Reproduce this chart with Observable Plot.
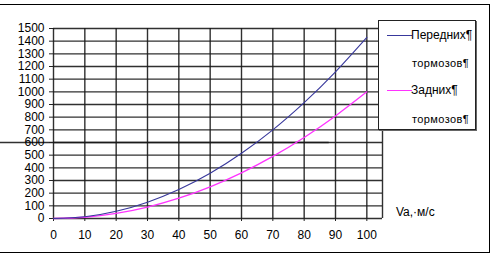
<!DOCTYPE html>
<html><head><meta charset="utf-8">
<script src="https://cdn.jsdelivr.net/npm/d3@7"></script>
<script src="https://cdn.jsdelivr.net/npm/@observablehq/plot@0.6"></script>
<style>
body{margin:0;background:#fff;}
#wrap{position:relative;width:493px;height:256px;overflow:hidden;font-family:"Liberation Sans",Arial,sans-serif;font-size:12px;color:#000;}
#wrap svg{position:absolute;left:0;top:0;}
#frame{position:absolute;left:-1px;top:4px;width:491px;height:249px;border:1px solid #000;box-sizing:border-box;pointer-events:none;}
#legend{position:absolute;left:378px;top:20px;width:98px;height:110px;box-sizing:border-box;border:1px solid #222;background:#fff;box-shadow:1px 1px 0 #666;}
#legend .sw{position:absolute;left:8px;width:25px;height:0;border-top:1px solid;}
#legend .t{position:absolute;line-height:14px;white-space:nowrap;}
#xlabel{position:absolute;left:396px;top:205px;line-height:14px;white-space:nowrap;}
</style>
</head><body>
<div id="wrap"><div id="frame"></div></div>
<script>
const speeds = [0, 10, 20, 30, 40, 50, 60, 70, 80, 90, 100];
const frontBrakes = [0, 14, 57, 129, 229, 357, 515, 700, 915, 1158, 1430];
const rearBrakes = [0, 10, 40, 90, 160, 250, 360, 490, 640, 810, 1000];
const xTicks = [0, 10, 20, 30, 40, 50, 60, 70, 80, 90, 100];
const yTicks = [0, 100, 200, 300, 400, 500, 600, 700, 800, 900, 1000, 1100, 1200, 1300, 1400, 1500];
const xEdge = 105;
const seriesNames = ["Передних¶", "Задних¶"];
const seriesSub = "тормозов¶";
const seriesColors = ["#38389c", "#ff33ff"];
const axisLabel = "Va,·м/с";
const strayLine = [{y: 600, x1: -17, x2: 88}];

const front = speeds.map((v, i) => ({v, f: frontBrakes[i]}));
const rear = speeds.map((v, i) => ({v, f: rearBrakes[i]}));
const gridStyle = {stroke: "#1a1a1a", strokeWidth: 1.4, strokeOpacity: 0.9};

const chart = Plot.plot({
  width: 493, height: 256,
  marginLeft: 53, marginRight: 111, marginTop: 28, marginBottom: 38,
  x: {domain: [0, xEdge]},
  y: {domain: [0, 1500]},
  style: {fontFamily: '"Liberation Sans", Arial, sans-serif', fontSize: "12px", color: "#000", background: "transparent"},
  marks: [
    Plot.ruleY(yTicks, {x1: 0, x2: xEdge, ...gridStyle}),
    Plot.ruleX([...xTicks, xEdge], {y1: 0, y2: 1500, ...gridStyle}),
    Plot.ruleY(strayLine, {y: "y", x1: "x1", x2: "x2", ...gridStyle}),
    Plot.axisY(yTicks, {tickSize: 4, tickPadding: 5, fontSize: 12, label: null, stroke: "#222", tickFormat: d3.format("d")}),
    Plot.axisX(xTicks, {tickSize: 3, tickPadding: 9, fontSize: 12, label: null, stroke: "#222", tickFormat: d3.format("d")}),
    Plot.line(rear, {x: "v", y: "f", stroke: seriesColors[1], strokeWidth: 1.3, curve: "natural"}),
    Plot.line(front, {x: "v", y: "f", stroke: seriesColors[0], strokeWidth: 1.1, curve: "natural"})
  ]
});
const wrap = document.getElementById("wrap");
wrap.insertBefore(chart, wrap.firstChild);

const lg = document.createElement("div");
lg.id = "legend";
const rows = [
  {sw: seriesColors[0], text: seriesNames[0], c: 15},
  {text: seriesSub, c: 43, sub: true},
  {sw: seriesColors[1], text: seriesNames[1], c: 70},
  {text: seriesSub, c: 99, sub: true}
];
for (const r of rows) {
  if (r.sw) {
    const s = document.createElement("div");
    s.className = "sw"; s.style.borderTopColor = r.sw; s.style.top = (r.c - 1) + "px";
    lg.appendChild(s);
  }
  const t = document.createElement("div");
  t.className = "t"; t.textContent = r.text;
  t.style.top = (r.c - 8) + "px";
  t.style.left = r.sub ? "33px" : "32px";
  if (r.sub) { t.style.letterSpacing = "0.4px"; t.style.fontSize = "11px"; }
  lg.appendChild(t);
}
wrap.appendChild(lg);
const xl = document.createElement("div");
xl.id = "xlabel"; xl.textContent = axisLabel;
wrap.appendChild(xl);
</script>
</body></html>
